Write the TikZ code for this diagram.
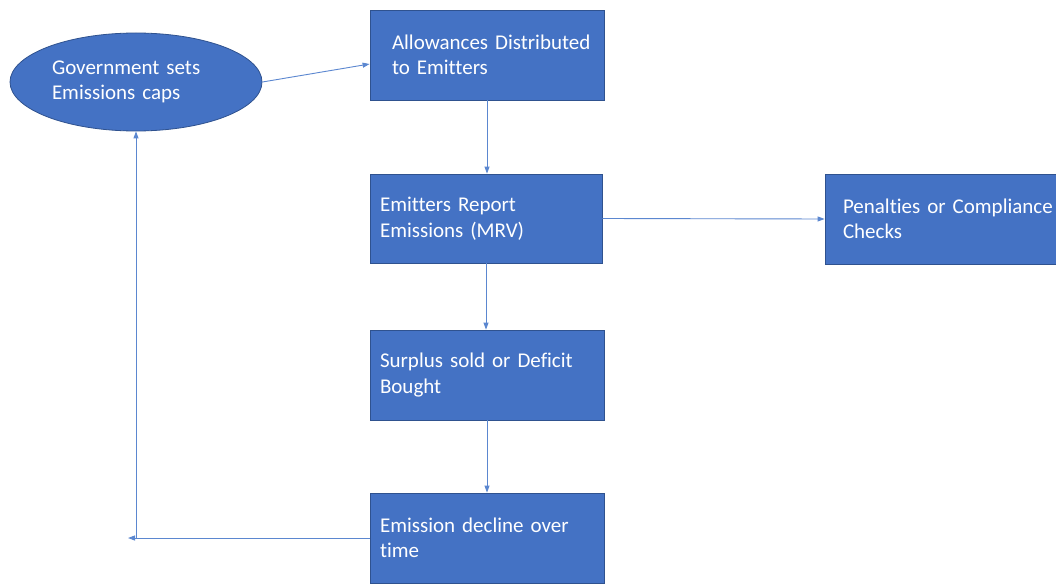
\documentclass[tikz,border=0pt]{standalone}
\usepackage{fontspec}
\setmainfont[Ligatures=NoCommon]{Carlito}
\usepackage{xcolor}
\usetikzlibrary{arrows.meta,shapes.geometric}
\definecolor{boxblue}{HTML}{4472C4}
\definecolor{boxedge}{HTML}{2F528F}
\definecolor{flowline}{HTML}{5B87D0}

\begin{document}
\begin{tikzpicture}[x=1pt,y=-1pt,
  every node/.style={font=\fontsize{21}{25.5}\selectfont,text=white},
  stagebox/.style={rectangle,draw=boxedge,fill=boxblue,line width=0.8pt,
    minimum width=234pt,minimum height=90pt,text width=214pt,align=left,inner sep=0pt},
  capoval/.style={ellipse,draw=boxedge,fill=boxblue,line width=0.8pt,
    minimum width=252pt,minimum height=98pt,text width=168pt,align=left,inner sep=0pt},
  flow/.style={draw=flowline,line width=0.9pt,-{Triangle[length=7pt,width=5pt]}}]
\clip (0,0) rectangle (1056,583);
\fill[white] (0,0) rectangle (1056,583);

% cap and allowances
\node[capoval] (gov) at (136,82) {\mbox{Government sets}\\Emissions caps};
\node[stagebox,text width=190pt] (alloc) at (487,55) {\mbox{Allowances Distributed}\\to Emitters};

% main chain
\node[stagebox,minimum width=232pt,minimum height=89pt,text width=212pt] (report) at (486,218.5) {Emitters Report\\Emissions (MRV)};
\node[stagebox] (trade) at (487,375) {\mbox{Surplus sold or Deficit}\\Bought};
\node[stagebox] (decline) at (487,538) {\mbox{Emission decline over}\\time};
\node[stagebox,text width=198pt] (penalty) at (942,219) {\mbox{Penalties or Compliance}\\Checks};

\coordinate (loopcorner) at (136,538);
\coordinate (looptip) at (128,538);

% connectors
\draw[flow] (gov.east) -- ([yshift=-9pt]alloc.west);
\draw[flow] (alloc.south) -- (alloc.south |- report.north);
\draw[flow] (report.south) -- (report.south |- trade.north);
\draw[flow] (trade.south) -- (trade.south |- decline.north);
\draw[flow] (report.east) -- (penalty.west);
\draw[flow] (decline.west) -- (looptip);
\draw[flow] (loopcorner) -- (gov.south);
\end{tikzpicture}
\end{document}
